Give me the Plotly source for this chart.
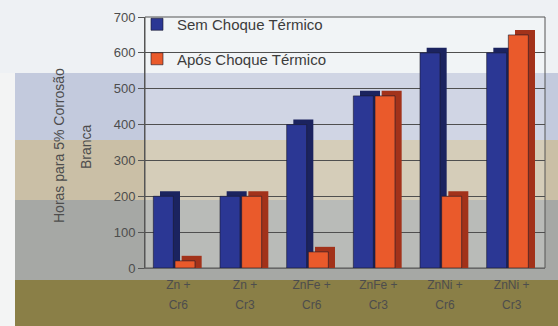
import plotly.graph_objects as go

# Dados: horas até 5% de corrosão branca por tipo de revestimento
categorias = ["Zn + Cr6", "Zn + Cr3", "ZnFe + Cr6", "ZnFe + Cr3", "ZnNi + Cr6", "ZnNi + Cr3"]
rotulo_linha1 = ["Zn +", "Zn +", "ZnFe +", "ZnFe +", "ZnNi +", "ZnNi +"]
rotulo_linha2 = ["Cr6", "Cr3", "Cr6", "Cr3", "Cr6", "Cr3"]
sem_choque = [200, 200, 400, 480, 600, 600]
apos_choque = [20, 200, 45, 480, 200, 650]
serie_nomes = ["Sem Choque Térmico", "Após Choque Térmico"]
y_ticks = [0, 100, 200, 300, 400, 500, 600, 700]

W, H = 558, 326
L, R, T, B = 145, 13, 17, 58
PW, PH = W - L - R, H - T - B


def px(x):
    return (x - L) / PW


def py(y):
    return (H - B - y) / PH


FONT = "Liberation Sans, Arial, sans-serif"
TXT = "#4d4d4d"

# largura da face frontal, profundidade do efeito 3D
FRENTE = 0.30
PROF_X = 0.10
PROF_Y = 14

fig = go.Figure()

series = [
    (sem_choque, serie_nomes[0], "#2b3794", "#1b235f", -0.375),
    (apos_choque, serie_nomes[1], "#ea5a2b", "#a2321a", -0.05),
]
for i, (vals, nome, cor, cor_lado, off) in enumerate(series):
    # lateral/topo escuros (deslocados para dar profundidade)
    fig.add_trace(go.Bar(
        x=categorias, y=[v + PROF_Y for v in vals], offset=off + PROF_X, width=FRENTE,
        marker=dict(color=cor_lado, line=dict(width=0)),
        showlegend=False, hoverinfo="skip", legendgroup=f"g{i}",
    ))
    # face frontal
    fig.add_trace(go.Bar(
        x=categorias, y=vals, offset=off, width=FRENTE, name=nome,
        marker=dict(color=cor, line=dict(color="#1a1a2a", width=0.6)),
        legendgroup=f"g{i}",
    ))

# eixo auxiliar para a segunda linha dos rótulos das categorias
fig.add_trace(go.Scatter(
    x=list(range(len(categorias))), y=sem_choque, xaxis="x2", mode="markers",
    marker=dict(opacity=0), showlegend=False, hoverinfo="skip",
))

# faixas de fundo
faixas = [
    (0, 73, "#eef1f4", 0),
    (73, 140, "#c3cadd", 15),
    (140, 200, "#cabfa6", 15),
    (200, 280, "#a6a8a5", 15),
    (280, 326, "#8a7f47", 15),
]
shapes = [dict(type="rect", xref="paper", yref="paper", x0=px(0), x1=px(W),
               y0=py(H), y1=py(0), fillcolor="#f3f4f4", line_width=0, layer="below")]
for y0, y1, cor, x0 in faixas:
    shapes.append(dict(type="rect", xref="paper", yref="paper", x0=px(x0), x1=px(W),
                       y0=py(y1), y1=py(y0), fillcolor=cor, line_width=0, layer="below"))
# parede do gráfico, levemente clareada
shapes.append(dict(type="rect", xref="paper", yref="paper", x0=0, x1=1, y0=0, y1=1,
                   fillcolor="rgba(255,255,255,0.22)", line=dict(color="#555555", width=1),
                   layer="below"))

annotations = [
    dict(text="Horas para 5% Corrosão", xref="paper", yref="paper", x=px(49), y=py(146),
         textangle=-90, showarrow=False, font=dict(family=FONT, size=14, color=TXT)),
    dict(text="Branca", xref="paper", yref="paper", x=px(76), y=py(147),
         textangle=-90, showarrow=False, font=dict(family=FONT, size=14, color=TXT)),
]

fig.update_layout(
    width=W, height=H,
    margin=dict(l=L, r=R, t=T, b=B, autoexpand=False),
    paper_bgcolor="rgba(0,0,0,0)", plot_bgcolor="rgba(0,0,0,0)",
    barmode="overlay",
    shapes=shapes, annotations=annotations,
    font=dict(family=FONT, color=TXT),
    legend=dict(x=px(137), y=py(8), xanchor="left", yanchor="top",
                bgcolor="rgba(0,0,0,0)", font=dict(size=15, color="#3c3c3c"),
                tracegroupgap=12, itemclick=False),
    xaxis=dict(type="category", categoryarray=categorias, range=[-0.5, 5.5],
               tickmode="array", tickvals=categorias, ticktext=rotulo_linha1,
               ticks="", showgrid=False, showline=True, linecolor="#666666",
               tickfont=dict(size=12, color=TXT), ticklabelstandoff=6),
    xaxis2=dict(type="linear", overlaying="x", anchor="y", side="bottom",
                range=[-0.5, 5.5], tickmode="array", tickvals=list(range(len(categorias))),
                ticktext=rotulo_linha2, ticks="", showgrid=False, showline=False,
                zeroline=False, tickfont=dict(size=12, color=TXT), ticklabelstandoff=28),
    yaxis=dict(range=[0, 700], tickvals=y_ticks, showgrid=True, gridcolor="#4f4f4f",
               gridwidth=1, zeroline=False, showline=True, linecolor="#555555",
               ticks="outside", ticklen=6, tickcolor="#555555",
               tickfont=dict(size=13, color=TXT)),
)

fig.write_html("out.html")
